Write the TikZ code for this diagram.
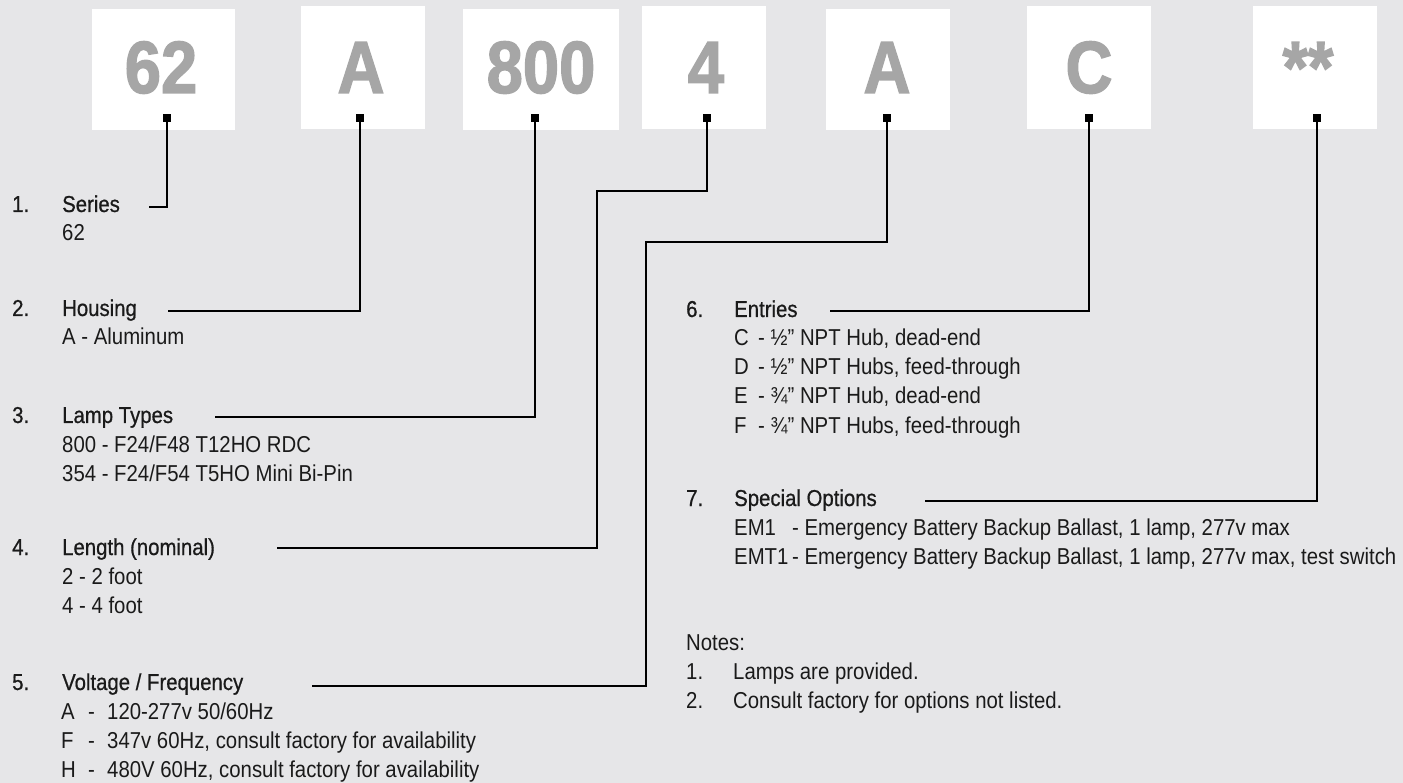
\documentclass[tikz,border=0pt]{standalone}
\usepackage{fontspec}
\setmainfont[FakeStretch=0.885]{Liberation Sans}
\newfontfamily\headfont[FakeStretch=0.885, FakeBold=0.7]{Liberation Sans}
\newfontfamily\bigfont[FakeStretch=0.88, FakeBold=1.8]{Liberation Sans}
\definecolor{bg}{HTML}{E6E6E8}
\definecolor{digit}{HTML}{A6A6A6}
\definecolor{ink}{HTML}{1A1A1A}
\tikzset{
  codebox/.style={fill=white, draw=none, inner sep=0pt, minimum width=124pt, minimum height=123pt},
  codetext/.style={anchor=base, inner sep=0pt, text=digit, font=\bigfont\bfseries\fontsize{74}{74}\selectfont},
  marker/.style={fill=black, draw=none, inner sep=0pt, minimum size=7.5pt},
  conn/.style={draw=black, line width=2.6pt, line join=miter},
  num/.style={anchor=base west, inner sep=0pt, text=ink, font=\headfont\fontsize{23}{29}\selectfont},
  head/.style={anchor=base west, inner sep=0pt, text=ink, font=\headfont\fontsize{23}{29}\selectfont},
  item/.style={anchor=base west, inner sep=0pt, text=ink, font=\fontsize{23}{29}\selectfont},
}
\begin{document}
\begin{tikzpicture}[x=1pt, y=-1pt]
\useasboundingbox (0,0) rectangle (1403,783);
\fill[bg] (0,0) rectangle (1403,783);

% code boxes
\node[codebox, minimum width=143pt, minimum height=121pt] (b1) at (163.5,69.5) {};
\node[codebox] (b2) at (363,67.5) {};
\node[codebox, minimum width=156pt, minimum height=121pt] (b3) at (541,69.5) {};
\node[codebox] (b4) at (704,67.5) {};
\node[codebox, minimum height=121pt] (b5) at (887.5,69.5) {};
\node[codebox] (b6) at (1089,67.5) {};
\node[codebox] (b7) at (1315,67.5) {};

\node[codetext] (t1) at (161,93) {62};
\node[codetext] (t2) at (361,93) {A};
\node[codetext] (t3) at (541,93) {800};
\node[codetext] (t4) at (706,93) {4};
\node[codetext] (t5) at (887,93) {A};
\node[codetext] (t6) at (1089,93) {C};
\node[codetext] (t7) at (1308,93) {**};

% markers
\node[marker] (m1) at (167,118) {};
\node[marker] (m2) at (360,118) {};
\node[marker] (m3) at (535,118) {};
\node[marker] (m4) at (707,118) {};
\node[marker] (m5) at (887,118) {};
\node[marker] (m6) at (1089,118) {};
\node[marker] (m7) at (1317,118) {};

% connector ends
\coordinate (e1) at (149,207);
\coordinate (e2) at (168,311);
\coordinate (e3) at (215,417);
\coordinate (k4) at (597,191);
\coordinate (e4) at (277,548);
\coordinate (k5) at (646,242);
\coordinate (e5) at (312,686);
\coordinate (e6) at (830,311);
\coordinate (e7) at (925,501);

\draw[conn] (m1.center) |- (e1);
\draw[conn] (m2.center) |- (e2);
\draw[conn] (m3.center) |- (e3);
\draw[conn] (m4.center) |- (k4) |- (e4);
\draw[conn] (m5.center) |- (k5) |- (e5);
\draw[conn] (m6.center) |- (e6);
\draw[conn] (m7.center) |- (e7);

% left column
\node[num] (n1) at (12,212) {1.};
\node[head] (h1) at (62,212) {Series};
\node[item] (s1a) at (62,241) {62};

\node[num] (n2) at (12,316) {2.};
\node[head] (h2) at (62,316) {Housing};
\node[item] (s2a) at (62,345) {A - Aluminum};

\node[num] (n3) at (12,423) {3.};
\node[head] (h3) at (62,423) {Lamp Types};
\node[item] (s3a) at (62,452) {800 - F24/F48 T12HO RDC};
\node[item] (s3b) at (62,481) {354 - F24/F54 T5HO Mini Bi-Pin};

\node[num] (n4) at (12,555) {4.};
\node[head] (h4) at (62,555) {Length (nominal)};
\node[item] (s4a) at (62,584) {2 - 2 foot};
\node[item] (s4b) at (62,613) {4 - 4 foot};

\node[num] (n5) at (12,690) {5.};
\node[head] (h5) at (62,690) {Voltage / Frequency};
\node[item] (s5a) at (61,719) {A};
\node[item] (s5ad) at (88,719) {-};
\node[item] (s5at) at (107,719) {120-277v 50/60Hz};
\node[item] (s5b) at (61,748) {F};
\node[item] (s5bd) at (88,748) {-};
\node[item] (s5bt) at (107,748) {347v 60Hz, consult factory for availability};
\node[item] (s5c) at (61,777) {H};
\node[item] (s5cd) at (88,777) {-};
\node[item] (s5ct) at (107,777) {480V 60Hz, consult factory for availability};

% right column
\node[num] (n6) at (686,317) {6.};
\node[head] (h6) at (734,317) {Entries};
\node[item] (s6a) at (734,346) {C};
\node[item] (s6at) at (758,346) {- ½” NPT Hub, dead-end};
\node[item] (s6b) at (734,375) {D};
\node[item] (s6bt) at (758,375) {- ½” NPT Hubs, feed-through};
\node[item] (s6c) at (734,404) {E};
\node[item] (s6ct) at (758,404) {- ¾” NPT Hub, dead-end};
\node[item] (s6d) at (734,433) {F};
\node[item] (s6dt) at (758,433) {- ¾” NPT Hubs, feed-through};

\node[num] (n7) at (686,506) {7.};
\node[head] (h7) at (734,506) {Special Options};
\node[item] (s7a) at (734,535) {EM1};
\node[item] (s7at) at (792,535) {- Emergency Battery Backup Ballast, 1 lamp, 277v max};
\node[item] (s7b) at (734,564) {EMT1};
\node[item] (s7bt) at (792,564) {- Emergency Battery Backup Ballast, 1 lamp, 277v max, test switch};

\node[item] (notes) at (686,650) {Notes:};
\node[item] (nn1) at (686,679) {1.};
\node[item] (nn1t) at (733,679) {Lamps are provided.};
\node[item] (nn2) at (686,708) {2.};
\node[item] (nn2t) at (733,708) {Consult factory for options not listed.};
\end{tikzpicture}
\end{document}
